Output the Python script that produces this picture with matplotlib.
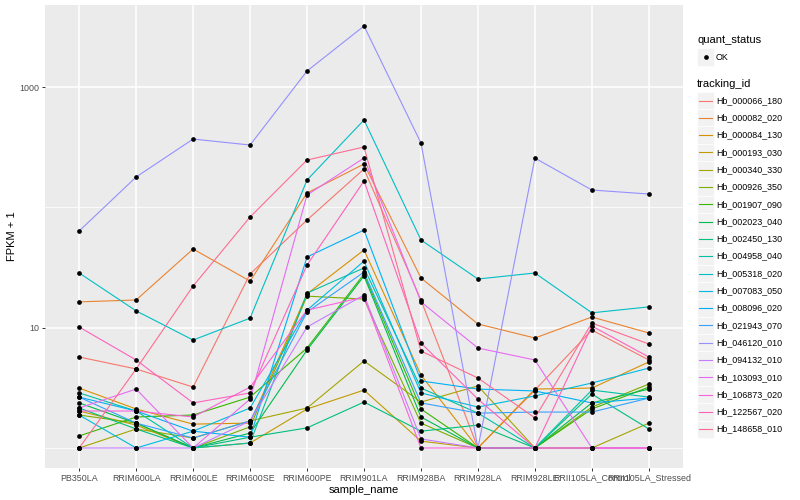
import matplotlib
matplotlib.use("Agg")
import matplotlib.pyplot as plt
import numpy as np
from matplotlib.lines import Line2D
from matplotlib.patches import Rectangle
from matplotlib.ticker import NullFormatter

plt.rcParams["font.family"] = ["Liberation Sans", "DejaVu Sans"]

sample_names = ["PB350LA", "RRIM600LA", "RRIM600LE", "RRIM600SE", "RRIM600PE",
                "RRIM901LA", "RRIM928BA", "RRIM928LA", "RRIM928LE",
                "RRII105LA_Control", "RRII105LA_Stressed"]

tracking_ids = ["Hb_000066_180", "Hb_000082_020", "Hb_000084_130", "Hb_000193_030",
                "Hb_000340_330", "Hb_000926_350", "Hb_001907_090", "Hb_002023_040",
                "Hb_002450_130", "Hb_004958_040", "Hb_005318_020", "Hb_007083_050",
                "Hb_008096_020", "Hb_021943_070", "Hb_046120_010", "Hb_094132_010",
                "Hb_103093_010", "Hb_106873_020", "Hb_122567_020", "Hb_148658_010"]

# FPKM per sample (plotted as FPKM + 1)
hb_000066_180 = [4.71, 3.54, 2.21, 26.95, 77.6, 207.6, 16.0, 0, 2.03, 8.57, 4.39]
hb_000082_020 = [15.4, 16.0, 44.1, 23.4, 130.7, 228.5, 24.9, 9.74, 7.21, 11.27, 8.04]
hb_000084_130 = [2.15, 1.11, 0.58, 0.61, 18.1, 43.3, 3.04, 0, 2.09, 2.15, 4.19]
hb_000193_030 = [1.03, 0.55, 0, 0.10, 1.11, 2.03, 0.14, 0, 0, 0, 0]
hb_000340_330 = [0, 0.44, 0.21, 0.68, 1.15, 4.29, 1.41, 2.28, 0, 0, 0.61]
hb_000926_350 = [0.88, 0.61, 0, 0.50, 17.3, 16.3, 0.61, 0, 0, 1.19, 2.40]
hb_001907_090 = [0.26, 0.81, 0.88, 1.65, 5.78, 26.95, 1.11, 0, 0, 1.11, 2.21]
hb_002023_040 = [1.37, 0.61, 0, 0.33, 5.53, 25.9, 0.81, 0, 0, 1.37, 2.09]
hb_002450_130 = [1.15, 0.44, 0, 0.23, 0.47, 1.41, 0.38, 0.55, 0, 1.81, 0.44]
hb_004958_040 = [1.87, 1.03, 0, 0.10, 18.4, 30.4, 2.15, 0.95, 0, 2.03, 1.65]
hb_005318_020 = [27.5, 12.8, 6.90, 11.0, 168.0, 532.0, 52.6, 24.4, 27.5, 12.3, 13.9]
hb_007083_050 = [0.88, 0, 0.38, 1.15, 13.0, 34.8, 1.87, 1.19, 1.71, 2.47, 3.62]
hb_008096_020 = [1.65, 1.03, 0.38, 0.23, 37.7, 63.9, 2.61, 2.09, 1.98, 1.37, 1.60]
hb_021943_070 = [1.65, 0.61, 0.21, 0.68, 12.5, 28.0, 1.37, 0.95, 0.99, 0.99, 1.60]
hb_046120_010 = [62.7, 178.0, 369.0, 329.0, 1360.0, 3219.0, 342.0, 0, 256.0, 138.5, 128.2]
hb_094132_010 = [0, 0, 0, 0.68, 9.13, 17.7, 0.19, 0, 0, 0, 0]
hb_103093_010 = [1.15, 2.09, 0, 1.55, 125.8, 256.4, 15.4, 5.78, 4.39, 0, 0]
hb_106873_020 = [1.03, 1.03, 0.81, 2.21, 13.0, 17.0, 0, 0, 0, 0, 0]
hb_122567_020 = [9.13, 4.39, 1.37, 1.87, 32.2, 164.8, 6.46, 1.55, 0, 9.33, 4.71]
hb_148658_010 = [0, 3.54, 21.2, 82.2, 246.7, 316.8, 5.40, 2.82, 0.78, 9.94, 6.32]

fpkm_rows = [hb_000066_180, hb_000082_020, hb_000084_130, hb_000193_030,
             hb_000340_330, hb_000926_350, hb_001907_090, hb_002023_040,
             hb_002450_130, hb_004958_040, hb_005318_020, hb_007083_050,
             hb_008096_020, hb_021943_070, hb_046120_010, hb_094132_010,
             hb_103093_010, hb_106873_020, hb_122567_020, hb_148658_010]

hue_colors = ["#F8766D", "#EA8331", "#D89000", "#C09B00", "#A3A500", "#7CAE00",
              "#39B600", "#00BB4E", "#00BF7D", "#00C1A3", "#00BFC4", "#00BAE0",
              "#00B0F6", "#35A2FF", "#9590FF", "#C77CFF", "#E76BF3", "#FA62DB",
              "#FF62BC", "#FF6C91"]

W, H = 800, 500
fig = plt.figure(figsize=(8, 5), dpi=100)
ax = fig.add_axes([45 / W, 32 / H, 638 / W, 463 / H])
ax.set_facecolor("#EBEBEB")

x = np.arange(len(sample_names))
for vals, col in zip(fpkm_rows, hue_colors):
    ax.plot(x, np.array(vals) + 1, color=col, lw=0.8, zorder=2)
for vals in fpkm_rows:
    ax.plot(x, np.array(vals) + 1, "o", color="black", ms=3.4, mew=0, zorder=3)

ax.set_yscale("log")
ax.set_ylim(0.682, 4815)
ax.set_xlim(-0.6, len(sample_names) - 0.4)
ax.set_xticks(x)
ax.set_xticklabels(sample_names)
ax.set_yticks([10, 1000])
ax.set_yticklabels(["10", "1000"])
ax.set_yticks([1, 100], minor=True)
ax.yaxis.set_minor_formatter(NullFormatter())

ax.grid(which="major", color="white", lw=1.1)
ax.grid(which="minor", axis="y", color="white", lw=0.55)
ax.set_axisbelow(True)
for s in ax.spines.values():
    s.set_visible(False)
ax.tick_params(which="major", length=2.5, width=0.7, color="#333333",
               labelsize=6.4, labelcolor="#4D4D4D", pad=1.5)
ax.tick_params(which="minor", length=0)

ax.set_xlabel("sample_name", fontsize=8, labelpad=2)
ax.set_ylabel("FPKM + 1", fontsize=8, labelpad=2)


def fx(px):
    return px / W


def fy(py):
    return 1 - py / H


# legends
key_w, key_h = 17, 17.3
lx = 697
fig.text(fx(lx), fy(40), "quant_status", fontsize=8, va="center", ha="left")
fig.patches.append(Rectangle((fx(lx), fy(57 + key_h / 2)), key_w / W, key_h / H,
                             transform=fig.transFigure, facecolor="#F2F2F2",
                             edgecolor="white", lw=0.5))
fig.lines.append(Line2D([fx(lx + key_w / 2)], [fy(57)], transform=fig.transFigure,
                        marker="o", color="black", ms=3.4, mew=0))
fig.text(fx(716), fy(57), "OK", fontsize=6.4, va="center", ha="left")

fig.text(fx(lx), fy(84), "tracking_id", fontsize=8, va="center", ha="left")
for i, (name, col) in enumerate(zip(tracking_ids, hue_colors)):
    cy = 100.5 + i * key_h
    fig.patches.append(Rectangle((fx(lx), fy(cy + key_h / 2)), key_w / W, key_h / H,
                                 transform=fig.transFigure, facecolor="#F2F2F2",
                                 edgecolor="white", lw=0.5))
    fig.lines.append(Line2D([fx(lx + 2), fx(lx + key_w - 2)], [fy(cy), fy(cy)],
                            transform=fig.transFigure, color=col, lw=0.8))
    fig.text(fx(716), fy(cy), name, fontsize=6.4, va="center", ha="left")

fig.savefig("out.png", dpi=100)
